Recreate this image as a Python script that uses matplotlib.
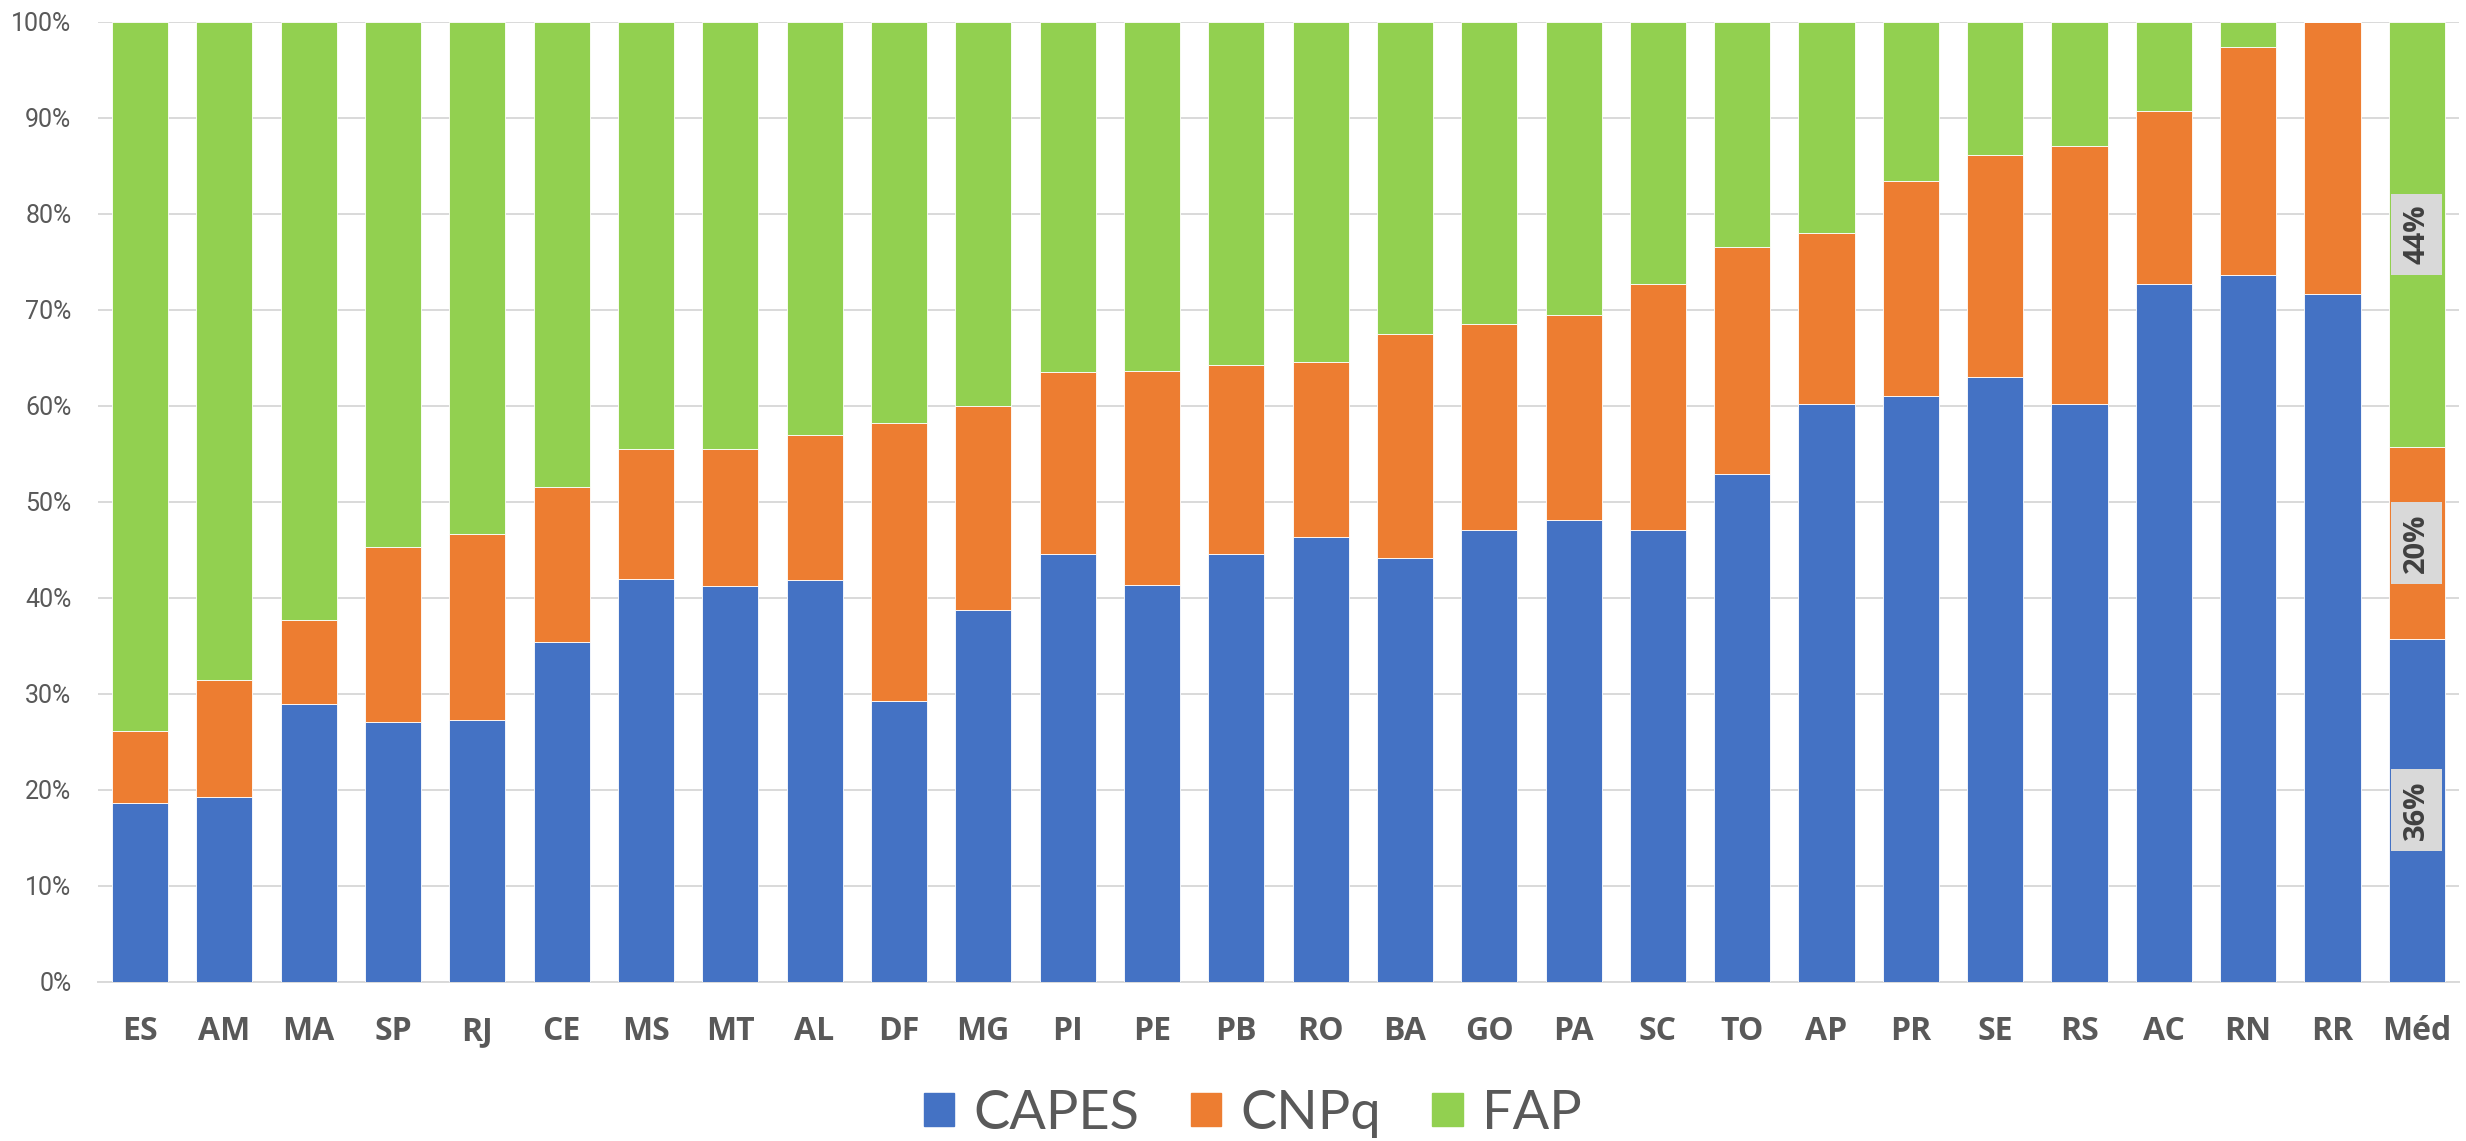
import matplotlib
matplotlib.use("Agg")
import matplotlib.pyplot as plt
from matplotlib.patches import Patch
import numpy as np

states = ["ES", "AM", "MA", "SP", "RJ", "CE", "MS", "MT", "AL", "DF", "MG", "PI", "PE", "PB",
          "RO", "BA", "GO", "PA", "SC", "TO", "AP", "PR", "SE", "RS", "AC", "RN", "RR", "Méd"]
capes = [18.55, 19.2, 28.9, 27.0, 27.2, 35.4, 41.9, 41.2, 41.8, 29.2, 38.7, 44.5, 41.3, 44.5,
         46.3, 44.1, 47.0, 48.1, 47.0, 52.9, 60.2, 61.0, 63.0, 60.2, 72.7, 73.6, 71.6, 35.7]
cnpq_cum = [26.06, 31.4, 37.7, 45.3, 46.6, 51.5, 55.5, 55.5, 56.9, 58.2, 59.9, 63.5, 63.6, 64.2,
            64.5, 67.4, 68.5, 69.4, 72.7, 76.5, 78.0, 83.4, 86.1, 87.0, 90.7, 97.3, 100.0, 55.65]
cnpq = [c - a for a, c in zip(capes, cnpq_cum)]
fap = [100.0 - c for c in cnpq_cum]
series_names = ["CAPES", "CNPq", "FAP"]
colors = ["#4472C4", "#ED7D31", "#92D050"]
yticks = [0, 10, 20, 30, 40, 50, 60, 70, 80, 90, 100]

W, H = 2466, 1141
fig = plt.figure(figsize=(W / 100, H / 100), dpi=100)
ax = fig.add_axes([97.8 / W, 1 - 981.5 / H, (2459 - 97.8) / W, (981.5 - 21.5) / H])

x = np.arange(len(states))
bw = 0.665
ax.bar(x, capes, bw, color=colors[0], edgecolor="white", linewidth=0.6, zorder=3)
ax.bar(x, cnpq, bw, bottom=capes, color=colors[1], edgecolor="white", linewidth=0.6, zorder=3)
ax.bar(x, fap, bw, bottom=cnpq_cum, color=colors[2], edgecolor="white", linewidth=0.6, zorder=3)

# data labels on the average bar
i = len(states) - 1
segs = [(0, capes[i]), (capes[i], cnpq[i]), (cnpq_cum[i], fap[i])]
for bot, h in segs:
    ax.text(x[i], bot + h / 2, f"{round(h):d}%", rotation=90, ha="center", va="center",
            fontsize=21, fontweight="bold", color="#404040", family="Open Sans", zorder=5,
            bbox=dict(boxstyle="square,pad=0.38", fc="#D9D9D9", ec="none"))

ax.set_xlim(-0.5, len(states) - 0.5)
ax.set_ylim(0, 100)
ax.set_yticks(yticks)
ax.set_yticklabels([f"{v}%" for v in yticks], family="Roboto", fontsize=18, color="#595959")
ax.set_xticks(x)
ax.set_xticklabels(states, family="Open Sans", fontweight="bold", fontsize=23, color="#595959")
ax.tick_params(axis="y", length=0, pad=19)
ax.tick_params(axis="x", length=0, pad=24)
ax.grid(axis="y", color="#D9D9D9", linewidth=1.4, zorder=0)
for s in ["top", "right", "left"]:
    ax.spines[s].set_visible(False)
ax.spines["bottom"].set_color("#D9D9D9")
ax.spines["bottom"].set_linewidth(1.4)

handles = [Patch(color=c) for c in colors]
leg = fig.legend(handles, series_names, loc="center", bbox_to_anchor=(0.508, 0.024),
                 ncol=3, frameon=False, handlelength=0.56, handleheight=0.56,
                 handletextpad=0.35, columnspacing=0.95,
                 prop={"family": ["Liberation Sans Narrow", "Lato"], "size": 39})
for t in leg.get_texts():
    t.set_color("#595959")

fig.savefig("out.png", dpi=100)
